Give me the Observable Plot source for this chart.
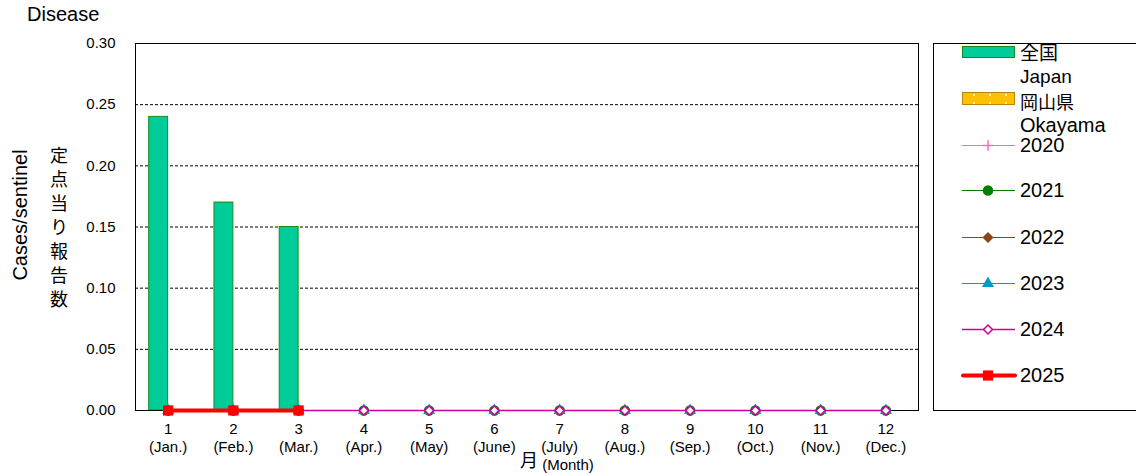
<!DOCTYPE html>
<html>
<head>
<meta charset="utf-8">
<script src="https://cdn.jsdelivr.net/npm/d3@7"></script>
<script src="https://cdn.jsdelivr.net/npm/@observablehq/plot@0.6"></script>
<style>
  body { margin: 0; background: #fff; }
  #chart { width: 1136px; height: 475px; }
  svg { font-family: "Liberation Sans", Arial, sans-serif; }
</style>
</head>
<body>
<div id="chart"></div>
<script>
// ---- data ----
const months = [1, 2, 3, 4, 5, 6, 7, 8, 9, 10, 11, 12];
const monthLabels = ["(Jan.)", "(Feb.)", "(Mar.)", "(Apr.)", "(May)", "(June)", "(July)", "(Aug.)", "(Sep.)", "(Oct.)", "(Nov.)", "(Dec.)"];
const japan = [0.24, 0.17, 0.15];
const okayama = [0, 0, 0];
const y2020 = [0, 0, 0, 0, 0, 0, 0, 0, 0, 0, 0, 0];
const y2021 = [0, 0, 0, 0, 0, 0, 0, 0, 0, 0, 0, 0];
const y2022 = [0, 0, 0, 0, 0, 0, 0, 0, 0, 0, 0, 0];
const y2023 = [0, 0, 0, 0, 0, 0, 0, 0, 0, 0, 0, 0];
const y2024 = [0, 0, 0, 0, 0, 0, 0, 0, 0, 0, 0, 0];
const y2025 = [0, 0, 0];
const yTicks = [0, 0.05, 0.10, 0.15, 0.20, 0.25, 0.30];

const series = [
  {name: "2020", values: y2020, color: "#FF66CC", symbol: "plus", fill: "#FF66CC", r: 3.5, sw: 1},
  {name: "2021", values: y2021, color: "#008000", symbol: "circle", fill: "#008000", r: 4.5, sw: 1},
  {name: "2022", values: y2022, color: "#8B4513", symbol: "diamond2", fill: "#8B4513", r: 4, sw: 1},
  {name: "2023", values: y2023, color: "#0099CC", symbol: "triangle2", fill: "#0099CC", r: 4.5, sw: 1},
  {name: "2024", values: y2024, color: "#CC0099", symbol: "diamond2", fill: "#ffffff", r: 4, sw: 1.5},
  {name: "2025", values: y2025, color: "#FF0000", symbol: "square2", fill: "#FF0000", r: 6.5, sw: 4}
];

const barW = 0.29;
const barData = [
  ...japan.map((v, i) => ({m: months[i], v, k: "japan"})),
  ...okayama.map((v, i) => ({m: months[i], v, k: "okayama"}))
];

const marks = [
  Plot.gridY(yTicks.slice(1, -1), {stroke: "#000", strokeOpacity: 1, strokeDasharray: "3,2", strokeWidth: 1}),
  Plot.rectY(barData.filter(d => d.k === "japan"), {x1: d => d.m - barW, x2: d => d.m, y1: 0, y2: "v", fill: "#00CC99", stroke: "#1B8A1B", strokeWidth: 1}),
  Plot.rectY(barData.filter(d => d.k === "okayama"), {x1: d => d.m, x2: d => d.m + barW, y1: 0, y2: "v", fill: "#FFC000", stroke: "#B8860B", strokeWidth: 1}),
  Plot.frame({stroke: "#000", strokeWidth: 1})
];
for (const s of series) {
  const data = s.values.map((v, i) => ({m: months[i], v}));
  marks.push(Plot.line(data, {x: "m", y: "v", stroke: s.color, strokeWidth: s.sw}));
  marks.push(Plot.dot(data, {x: "m", y: "v", symbol: () => s.symbol, r: s.r, fill: s.fill, stroke: s.color, strokeWidth: s.name === "2025" ? 0 : 1.5}));
}
marks.push(Plot.axisY({ticks: yTicks, tickSize: 0, tickPadding: 20, tickFormat: d => d.toFixed(2), fontSize: 15, label: null}));
marks.push(Plot.axisX({ticks: months, tickSize: 0, tickPadding: 11, fontSize: 15, lineHeight: 1.2, textAnchor: "middle", lineAnchor: "top", tickFormat: d => d + "\n" + monthLabels[d - 1], label: null}));

const plot = Plot.plot({
  width: 1136,
  height: 475,
  marginLeft: 135,
  marginRight: 218,
  marginTop: 43,
  marginBottom: 65,
  style: {fontFamily: '"Liberation Sans", Arial, sans-serif', color: "#000", background: "#fff", overflow: "visible"},
  x: {type: "linear", domain: [0.5, 12.5]},
  y: {domain: [0, 0.30]},
  symbol: {type: "identity"},
  marks
});
document.getElementById("chart").appendChild(plot);

// ---- annotations ----
const svg = d3.select(plot);
const font = '"Liberation Sans", Arial, sans-serif';
const jpFont = '"Noto Sans CJK JP", sans-serif';
svg.append("text").attr("x", 27).attr("y", 21).attr("text-anchor", "start").attr("font-size", 20).attr("font-family", font).attr("fill", "#000").text("Disease");
svg.append("text").attr("transform", "translate(27,215) rotate(-90)").attr("text-anchor", "middle")
  .attr("font-size", 20).attr("font-family", font).attr("fill", "#000").text("Cases/sentinel");
svg.append("text").attr("x", 59).attr("y", 146).attr("text-anchor", "start")
  .style("writing-mode", "vertical-rl").style("text-orientation", "upright")
  .attr("letter-spacing", 6).attr("font-size", 18).attr("font-family", jpFont).attr("fill", "#000").text("定点当り報告数");
svg.append("text").attr("x", 529).attr("y", 467).attr("text-anchor", "middle").attr("font-size", 18)
  .attr("font-family", jpFont).attr("fill", "#000").text("月");
svg.append("text").attr("x", 568).attr("y", 470).attr("text-anchor", "middle").attr("font-size", 15)
  .attr("font-family", font).attr("fill", "#000").text("(Month)");

// ---- legend ----
const lg = svg.append("g");
lg.append("rect").attr("x", 933.5).attr("y", 43.5).attr("width", 220).attr("height", 367).attr("fill", "#fff").attr("stroke", "#000").attr("stroke-width", 1);
const defs = svg.append("defs");
const pat = defs.append("pattern").attr("id", "okpat").attr("patternUnits", "userSpaceOnUse").attr("width", 16).attr("height", 8).attr("x", 962).attr("y", 92);
pat.append("rect").attr("width", 16).attr("height", 8).attr("fill", "#FFC000");
pat.append("circle").attr("cx", 12).attr("cy", 3).attr("r", 1).attr("fill", "#fff");
const tx = 1020;
const addText = (t, y, f, fs) => lg.append("text").attr("x", tx).attr("y", y).attr("text-anchor", "start").attr("font-size", fs || 20).attr("font-family", f || font).attr("fill", "#000").text(t);
lg.append("rect").attr("x", 962.5).attr("y", 46.5).attr("width", 52).attr("height", 11).attr("fill", "#00CC99").attr("stroke", "#1B8A1B");
addText("全国", 60, jpFont, 19);
addText("Japan", 83, font, 19);
lg.append("rect").attr("x", 962.5).attr("y", 92.5).attr("width", 52).attr("height", 12).attr("fill", "url(#okpat)").attr("stroke", "#B8860B");
addText("岡山県", 109, jpFont, 18);
addText("Okayama", 132);
const rowY = [145, 190, 237, 283, 329, 375];
series.forEach((s, i) => {
  const y = rowY[i] + 0.5;
  lg.append("line").attr("x1", s.name === "2025" ? 963 : 962).attr("x2", 1015).attr("y1", y).attr("y2", y)
    .attr("stroke", s.color).attr("stroke-width", s.sw).attr("stroke-linecap", s.name === "2025" ? "round" : "butt");
  const sym = d3.symbol().type({plus: d3.symbolPlus, circle: d3.symbolCircle, diamond2: d3.symbolDiamond2, triangle2: d3.symbolTriangle2, square2: d3.symbolSquare2}[s.symbol]).size(Math.PI * s.r * s.r);
  lg.append("path").attr("d", sym()).attr("transform", `translate(988,${y})`).attr("fill", s.symbol === "plus" ? "none" : s.fill)
    .attr("stroke", s.color).attr("stroke-width", s.name === "2025" ? 0 : 1.5);
  addText(s.name, rowY[i] + 7);
});
</script>
</body>
</html>
